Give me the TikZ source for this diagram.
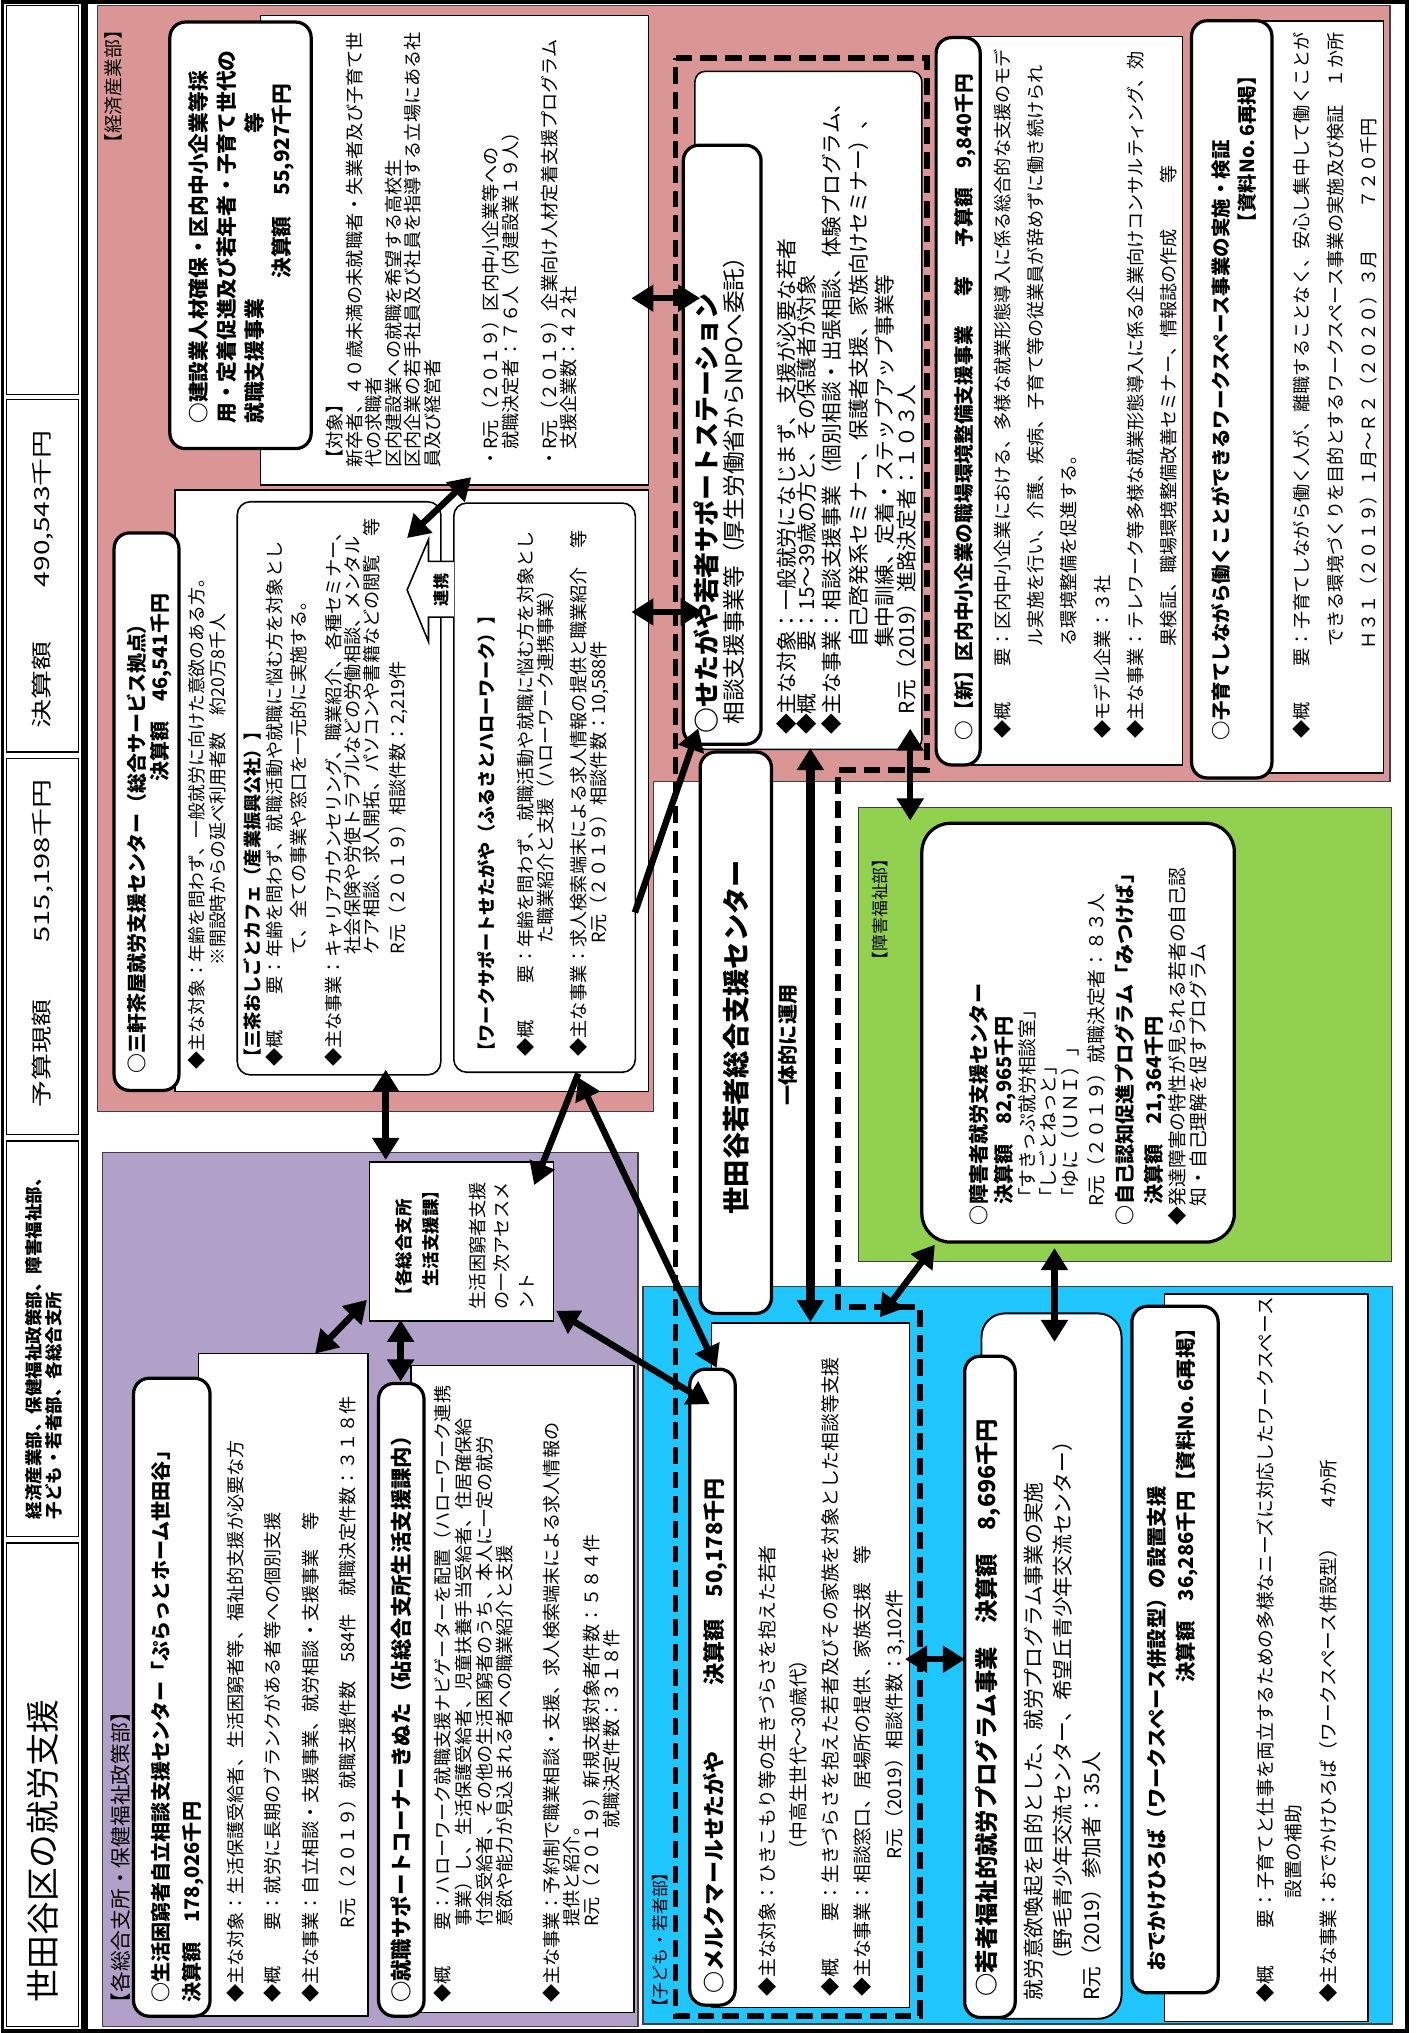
\documentclass[tikz,border=0pt]{standalone}
\usepackage{fontspec}
\usepackage{graphicx}
\setmainfont{Noto Sans CJK JP}
\usetikzlibrary{arrows.meta}
\definecolor{pinkr}{RGB}{217,150,148}
\definecolor{purr}{RGB}{177,160,199}
\definecolor{bluer}{RGB}{32,198,255}
\definecolor{greenr}{RGB}{146,208,80}
\lineskiplimit-200pt\relax
\tikzset{
  tx/.style={rotate=90, anchor=north west, inner sep=0pt, align=left},
  fr/.style 2 args={font={\fontsize{#1}{#2}\selectfont}},
  fb/.style 2 args={font={\fontsize{#1}{#2}\selectfont\bfseries}},
  tbox/.style={draw=black, line width=2.5pt, fill=white, rounded corners=12pt},
  ibox/.style={draw=black, line width=1.2pt, fill=white, rounded corners=10pt},
  dbox/.style={draw=black, line width=1.2pt, fill=white},
  regionbox/.style={draw=black!75, line width=1pt},
  arr/.style={line width=5pt, -{Triangle[length=17pt,width=20pt]}},
  darr/.style={line width=5pt, {Triangle[length=17pt,width=20pt]}-{Triangle[length=17pt,width=20pt]}},
  dashfr/.style={line width=4.5pt, dash pattern=on 13pt off 6pt},
}
\begin{document}
\lineskiplimit-200pt\relax
\begin{tikzpicture}[x=1pt,y=-1pt]
\useasboundingbox (0,0) rectangle (1092,1568);
\fill[white] (0,0) rectangle (1092,1568);

% ---------- header column
\draw[line width=2.5pt] (2,1.5) rectangle (63.5,1566.5);
\foreach \ya/\yb in {4/304,308/580,585/875,880/1185,1190/1563}{\draw[line width=0.9pt] (5,\ya) rectangle (60.5,\yb);}
\node[tx,fr={26}{30}] (title) at (20.8,1545) {世田谷区の就労支援};
\node[tx,fb={13.5}{15}] (depts) at (19.7,1172) {経済産業部、保健福祉政策部、障害福祉部、\\子ども・若者部、各総合支所};
\node[tx,fr={16}{18}] (budget1) at (24.5,854) {\scalebox{1.3}[1]{予算現額}};
\node[tx,fr={16}{18}] (budget2) at (24.5,727) {\scalebox{1.4}[1]{515,198千円}};
\node[tx,fr={16}{18}] (result1) at (24.5,562) {\scalebox{1.4}[1]{決算額}};
\node[tx,fr={16}{18}] (result2) at (24.5,453) {\scalebox{1.35}[1]{490,543千円}};

% ---------- main frame
\draw[line width=3pt] (66,1.5) rectangle (1085,1566.5);

% ---------- regions
\path[fill=pinkr,regionbox] (75,4.5) -- (1072,4.5) -- (1072,603) -- (504,603) -- (504,857) -- (75,857) -- cycle;
\path[fill=purr,regionbox] (79,889) rectangle (492,1563);
\path[fill=bluer,regionbox] (496,992) rectangle (1074,1561);
\path[fill=greenr,regionbox] (662,623) rectangle (1073,973);

\node[tx,fr={14.5}{16}] (lblecon) at (80.2,118) {【経済産業部】};
\node[tx,fr={16}{18}] (lblwel) at (85.3,1553) {【各総合支所・保健福祉政策部】};
\node[tx,fr={13}{15}] (lbldis) at (672.9,747) {【障害福祉部】};

% ---------- dashed outline (sapo-ste + merkmal)
\draw[dashfr] (521,45) -- (715,45) -- (715,594) -- (646,594) -- (646,1008) -- (709.5,1008) -- (709.5,1555) -- (521,1555) -- cycle;
\node[tx,fr={13}{15}] (lblyouth) at (502.9,1555) {【子ども・若者部】};

% ---------- 建設業
\path[dbox] (201,12) rectangle (500,374);
\path[tbox] (131,17) rectangle (240,346);
\node[tx,fb={16}{21.3}] (kensetsuT) at (145.5,327) {○建設業人材確保・区内中小企業等採\\用・定着促進及び若年者・子育て世代の\\就職支援事業\hspace{8em}等\\\hspace{7em}決算額　55,927千円};
\node[tx,fr={14}{15.05}] (kensetsuD) at (251.4,361) {【対象】\\新卒者、４０歳未満の未就職者・失業者及び子育て世\\代の求職者\\区内建設業への就職を希望する高校生\\区内企業の若手社員及び社員を指導する立場にある社\\員及び経営者\\[30.1pt]・R元（２０１９）区内中小企業等への\\　就職決定者：７６人（内建設業１９人）\\[15.05pt]・R元（２０１９）企業向け人材定着支援プログラム\\　支援企業数：４２社};

% ---------- 三軒茶屋
\path[dbox] (135,378) rectangle (500,842);
\path[tbox] (88,411) rectangle (138,841);
\node[tx,fb={15.4}{18}] (sanchaT1) at (97.5,828) {○三軒茶屋就労支援センター（総合サービス拠点）};
\node[tx,fb={15.4}{18}] (sanchaT2) at (115.3,603) {決算額　46,541千円};
\node[tx,fr={13.8}{16}] (sanchaL1) at (144.5,825) {◆主な対象：年齢を問わず、一般就労に向けた意欲のある方。};
\node[tx,fr={13.8}{16}] (sanchaL2) at (161.5,745) {※開設時からの延べ利用者数　約20万8千人};
\path[ibox] (183,387) rectangle (340,829);
\node[tx,fb={14}{16}] (cafeT) at (187.4,823) {【三茶おしごとカフェ（産業振興公社）】};
\node[tx,fr={14}{18.5}] (cafeA) at (204.4,823) {◆概　　要：年齢を問わず、就職活動や就職に悩む方を対象とし\\\hspace{6.2em}て、全ての事業や窓口を一元的に実施する。};
\node[tx,fr={14}{14.4}] (cafeB) at (250.4,823) {◆主な事業：キャリアカウンセリング、職業紹介、各種セミナー、\\\hspace{6.2em}社会保険や労使トラブルなどの労働相談、メンタル\\\hspace{6.2em}ケア相談、求人開拓、パソコンや書籍などの閲覧　等\\[6pt]\hspace{6.2em}R元（２０１９）相談件数：2,219件};
\path[ibox] (350,388) rectangle (490,827);
\node[tx,fb={14}{16}] (workT) at (368.4,818) {【ワークサポートせたがや（ふるさとハローワーク）】};
\node[tx,fr={14}{15}] (workA) at (398.4,815) {◆概　　要：年齢を問わず、就職活動や就職に悩む方を対象とし\\\hspace{6.2em}た職業紹介と支援（ハローワーク連携事業）};
\node[tx,fr={14}{15.5}] (workB) at (438.9,815) {◆主な事業：求人検索端末による求人情報の提供と職業紹介　等\\\hspace{6.2em}R元（２０１９）相談件数：10,588件};
\fill[white] (350,433) -- (330.5,433) -- (330.5,416) -- (314,455) -- (330.5,495) -- (330.5,476) -- (350,476) -- cycle;
\draw[line width=1.2pt] (350,433) -- (330.5,433) -- (330.5,416) -- (314,455) -- (330.5,495) -- (330.5,476) -- (350,476);
\node[fb={12.5}{14},rotate=90,inner sep=0pt] (renkei) at (340.5,455) {連携};

% ---------- サポステ
\path[dbox,rounded corners=8pt] (536,55) rectangle (711,578);
\path[tbox] (527,112) rectangle (587,574);
\node[tx,fb={20}{22}] (sapoT1) at (534.6,566) {○せたがや若者サポートステーション};
\node[tx,fr={17.5}{20}] (sapoT2) at (557.3,559) {相談支援事業等（厚生労働省からNPOへ委託）};
\node[tx,fr={16}{15.5}] (sapoA) at (598.5,567) {◆主な対象：一般就労になじまず、支援が必要な若者\\◆概　　要：15～39歳の方と、その保護者が対象};
\node[tx,fr={16}{20.5}] (sapoB) at (633.5,567) {◆主な事業：相談支援事業（個別相談・出張相談、体験プログラム、\\\hspace{4.2em}自己啓発系セミナー、保護者支援、家族向けセミナー）、\\\hspace{4.2em}集中訓練、定着・ステップアップ事業等};
\node[tx,fr={16}{18}] (sapoR) at (691.5,551) {R元（2019）進路決定者：１０３人};

% ---------- 中小企業
\path[dbox] (740,28) rectangle (912,590);
\path[tbox] (722,29) rectangle (756,590);
\node[tx,fb={15.2}{17}] (smeT) at (735.9,571) {○【新】区内中小企業の職場環境整備支援事業\hspace{1.5em}等\hspace{1.5em}予算額\hspace{1em}9,840千円};
\node[tx,fr={14}{25.7}] (smeD) at (766,570) {◆概　　要：区内中小企業における、多様な就業形態導入に係る総合的な支援のモデ\\\hspace{5.1em}ル実施を行い、介護、疾病、子育て等の従業員が辞めずに働き続けられ\\\hspace{5.1em}る環境整備を促進する。\\◆モデル企業：３社\\◆主な事業：テレワーク等多様な就業形態導入に係る企業向けコンサルティング、効\\\hspace{5.1em}果検証、職場環境整備改善セミナー、情報誌の作成\hspace{2.5em}等};

% ---------- 子育て
\path[dbox] (965,16) rectangle (1067,596);
\path[tbox] (919,16) rectangle (981,600);
\node[tx,fb={15}{17}] (kosoT1) at (934,571) {○子育てしながら働くことができるワークスペース事業の実施・検証};
\node[tx,fb={15}{17},anchor=north east] (kosoT2) at (954.4,51) {【資料No.\,6再掲】};
\node[tx,fr={14}{25.7}] (kosoD) at (997.2,570) {◆概　　要：子育てしながら働く人が、離職することなく、安心し集中して働くことが\\\hspace{5.1em}できる環境づくりを目的とするワークスペース事業の実施及び検証　１か所\\\hspace{4.9em}Ｈ３１（２０１９）１月～Ｒ２（２０２０）３月\hspace{2.3em}７２０千円};

% ---------- 各総合支所
\path[dbox] (285,896) rectangle (427,1019);
\node[tx,fb={13.5}{21}] (branchT) at (304.7,1006) {【各総合支所\\　生活支援課】};
\node[tx,fr={14}{19}] (branchD) at (361.4,1010) {生活困窮者支援\\の一次アセスメ\\ント};

% ---------- ぷらっと
\path[dbox] (153,1044) rectangle (284,1555);
\path[tbox] (103,1063) rectangle (162,1555);
\node[tx,fb={15.5}{24}] (platT) at (116.7,1545) {○生活困窮者自立相談支援センター「ぷらっとホーム世田谷」\\決算額　178,026千円};
\node[tx,fr={14}{29}] (platD) at (174.4,1545) {◆主な対象：生活保護受給者、生活困窮者等、福祉的支援が必要な方\\◆概　　要：就労に長期のブランクがある者等への個別支援\\◆主な事業：自立相談・支援事業、就労相談・支援事業　等\\\hspace{4.1em}R元（２０１９）就職支援件数　584件　就職決定件数：３１８件};

% ---------- きぬた
\path[dbox] (317,1053) rectangle (489,1552);
\path[tbox] (292,1067) rectangle (327,1555);
\node[tx,fb={16.5}{18}] (kinuT) at (301.2,1545) {○就職サポートコーナーきぬた（砧総合支所生活支援課内）};
\node[tx,fr={14}{16}] (kinuA) at (334.4,1545) {◆概　　要：ハローワーク就職支援ナビゲーターを配置（ハローワーク連携\\\hspace{4.2em}事業）し、生活保護受給者、児童扶養手当受給者、住居確保給\\\hspace{4.2em}付金受給者、その他の生活困窮者のうち、本人に一定の就労\\\hspace{4.2em}意欲や能力が見込まれる者への職業紹介と支援};
\node[tx,fr={14}{15.3}] (kinuB) at (418.4,1545) {◆主な事業：予約制で職業相談・支援、求人検索端末による求人情報の\\\hspace{4.2em}提供と紹介。\\\hspace{4.2em}R元（２０１９）新規支援対象者件数：５８４件\\\hspace{9.6em}就職決定件数：３１８件};

% ---------- 世田谷若者総合支援センター
\path[tbox] (540,580) rectangle (595,1013);
\node[fb={21}{24},rotate=90,inner sep=0pt] (center) at (568,800) {世田谷若者総合支援センター};
\node[fb={15.5}{18},rotate=90,inner sep=0pt] (ittai) at (608,806) {一体的に運用};

% ---------- 障害福祉
\path[tbox,rounded corners=22pt] (711,635) rectangle (952,958);
\node[tx,fb={15.5}{19.5}] (disG1) at (747,945) {○障害者就労支援センター\\　決算額　82,965千円};
\node[tx,fr={14.5}{16.5}] (disG2) at (785.2,931) {「すきっぷ就労相談室」\\「しごとねっと」\\「ゆに（ＵＮＩ）」\\[4pt]R元（２０１９）就職決定者：８３人};
\node[tx,fb={15.5}{22.3}] (disG3) at (859.7,945) {○自己認知促進プログラム「みつけば」\\　決算額　21,364千円};
\node[tx,fr={14.5}{16.7}] (disG4) at (900.6,945) {◆発達障害の特性が見られる若者の自己認\\　知・自己理解を促すプログラム};

% ---------- メルクマール
\path[dbox] (548.8,1020.5) rectangle (701.3,1548.4);
\path[tbox] (532,1056) rectangle (567,1546.5);
\node[tx,fb={17}{19}] (merkT) at (542,1538) {○メルクマールせたがや\hspace{3em}決算額　50,178千円};
\node[tx,fr={14.5}{24.5}] (merkD) at (584.2,1540) {◆主な対象：ひきこもり等の生きづらさを抱えた若者\\\hspace{7.3em}（中高生世代～30歳代）\\◆概　　要：生きづらさを抱えた若者及びその家族を対象とした相談等支援\\◆主な事業：相談窓口、居場所の提供、家族支援　等\\\hspace{7.3em}R元（2019）相談件数：3,102件};

% ---------- 若者福祉的就労プログラム
\path[ibox,line width=1.5pt,rounded corners=18pt] (757,1013) rectangle (865,1557);
\path[tbox] (744,1046) rectangle (783,1556);
\node[tx,fb={18}{20}] (progT) at (751.5,1540) {○若者福祉的就労プログラム事業　決算額　8,696千円};
\node[tx,fr={16}{22.5}] (progD) at (789.5,1543) {就労意欲喚起を目的とした、就労プログラム事業の実施\\\hspace{1.45em}（野毛青少年交流センター、希望丘青少年交流センター）\\R元（2019）参加者：35人};

% ---------- おでかけひろば
\path[dbox] (898,998) rectangle (1055,1559);
\path[tbox] (873,1007.5) rectangle (939.5,1537);
\node[tx,fb={15.7}{18}] (odeT1) at (884.6,1521) {おでかけひろば（ワークスペース併設型）の設置支援};
\node[tx,fb={15.7}{18}] (odeT2) at (906.6,1298) {決算額　36,286千円【資料No.\,6再掲】};
\node[tx,fr={14.4}{21.8}] (odeA) at (968.8,1545) {◆概　　要：子育てと仕事を両立するための多様なニーズに対応したワークスペース\\\hspace{5.6em}設置の補助};
\node[tx,fr={14.4}{16}] (odeB) at (1017.6,1545) {◆主な事業：おでかけひろば（ワークスペース併設型）\hspace{1.7em}4か所};

% ---------- connector end points
\coordinate (a1s) at (487,230);   \coordinate (a1e) at (540,230);
\coordinate (a2s) at (487,472);   \coordinate (a2e) at (542,472);
\coordinate (a3s) at (363.5,368); \coordinate (a3e) at (314,415);
\coordinate (a4s) at (297.5,825); \coordinate (a4e) at (297.5,894.6);
\coordinate (a5s) at (446,828);   \coordinate (a5e) at (412,914);
\coordinate (a6s) at (446,831);   \coordinate (a6e) at (552.7,1055);
\coordinate (a7s) at (429,1011);  \coordinate (a7e) at (547.5,1083);
\coordinate (a8s) at (283,1002.5);\coordinate (a8e) at (243,1044);
\coordinate (a9s) at (309,1018);  \coordinate (a9e) at (309,1065.5);
\coordinate (a10s) at (489.7,703.8); \coordinate (a10e) at (538.5,561.8);
\coordinate (a11s) at (625,577);  \coordinate (a11e) at (625,1019.7);
\coordinate (a12s) at (702,562);  \coordinate (a12e) at (702,632.8);
\coordinate (a13s) at (721,960);  \coordinate (a13e) at (678.6,1016);
\coordinate (a14s) at (813.3,962.6); \coordinate (a14e) at (813.3,1035);
\coordinate (a15s) at (698,1279.7); \coordinate (a15e) at (744.2,1279.7);

\draw[darr] (a1s) -- (a1e);
\draw[darr] (a2s) -- (a2e);
\draw[darr] (a3s) -- (a3e);
\draw[darr] (a4s) -- (a4e);
\draw[arr]  (a5s) -- (a5e);
\draw[darr] (a6s) -- (a6e);
\draw[darr] (a7s) -- (a7e);
\draw[darr] (a8s) -- (a8e);
\draw[darr] (a9s) -- (a9e);
\draw[arr]  (a10s) -- (a10e);
\draw[darr,line width=7pt] (a11s) -- (a11e);
\draw[darr] (a12s) -- (a12e);
\draw[darr] (a13s) -- (a13e);
\draw[darr] (a14s) -- (a14e);
\draw[darr] (a15s) -- (a15e);
\end{tikzpicture}
\end{document}
